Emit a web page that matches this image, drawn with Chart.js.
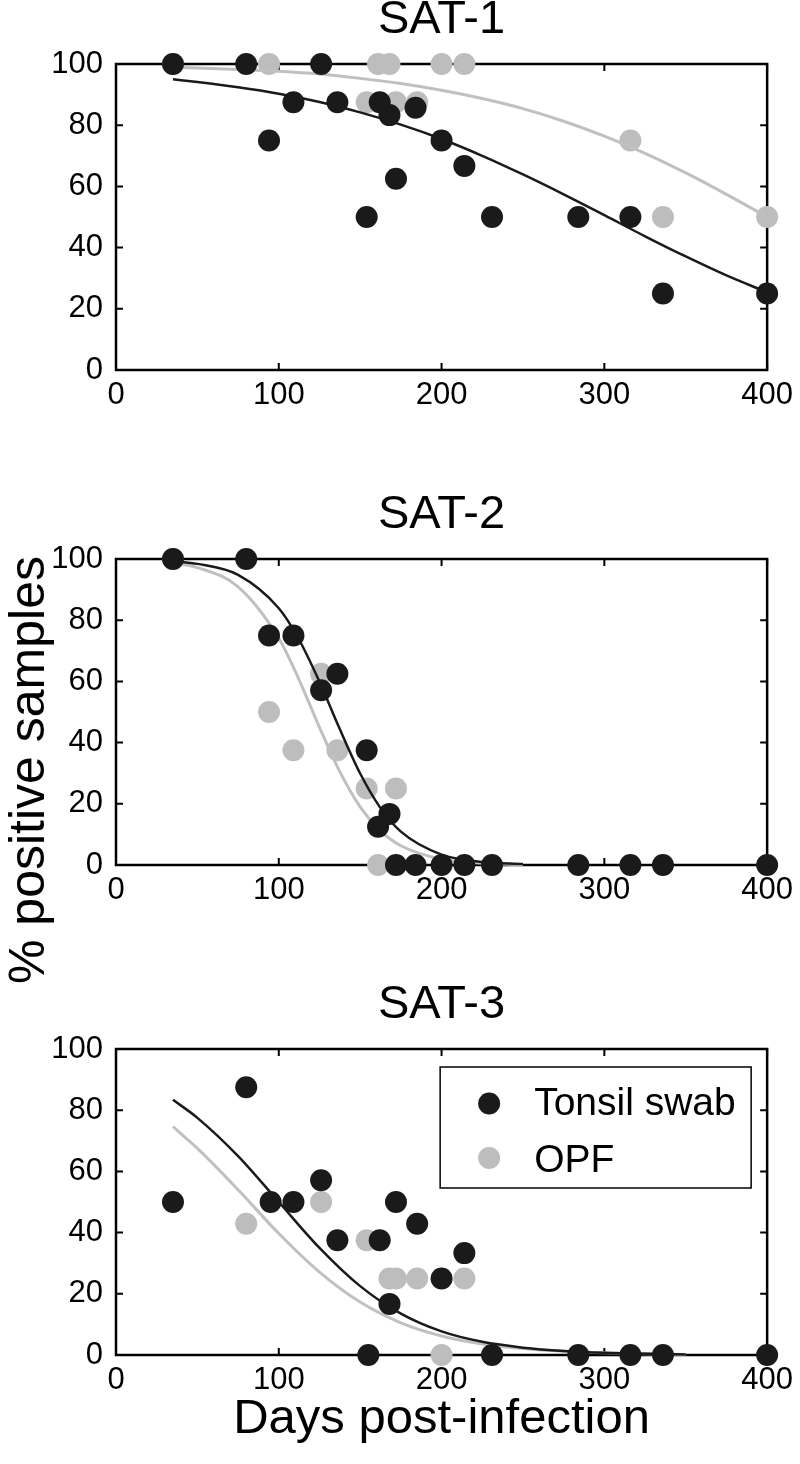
<!DOCTYPE html>
<html>
<head>
<meta charset="utf-8">
<script src="https://cdn.jsdelivr.net/npm/chart.js@4"></script>
<style>
  body { margin: 0; background: #fff; }
  #wrap { position: relative; width: 800px; height: 1464px; }
  canvas { position: absolute; left: 0; }
</style>
</head>
<body>
<div id="wrap">
  <canvas id="c1" width="800" height="495" style="top:0px"></canvas>
  <canvas id="c2" width="800" height="490" style="top:495px"></canvas>
  <canvas id="c3" width="800" height="479" style="top:985px"></canvas>
</div>
<script>
// ticks
const dayTicks = [0, 100, 200, 300, 400];
const pctTicks = [0, 20, 40, 60, 80, 100];

// SAT-1
const sat1TonsilDays = [35, 80, 94, 109, 126, 136, 154, 162, 168, 172, 184, 200, 214, 231, 284, 316, 336, 400];
const sat1TonsilPct  = [100, 100, 75, 87.5, 100, 87.5, 50, 87.5, 83.3, 62.5, 85.7, 75, 66.7, 50, 50, 50, 25, 25];
const sat1OpfDays = [35, 94, 154, 161, 168, 172, 185, 200, 214, 316, 336, 400];
const sat1OpfPct  = [100, 100, 87.5, 100, 100, 87.5, 87.5, 100, 100, 75, 50, 50];
const sat1FitDays = [35, 50, 75, 100, 125, 150, 175, 200, 225, 250, 275, 300, 325, 350, 375, 400];
const sat1TonsilFit = [95.0, 94.1, 92.4, 90.3, 87.6, 84.2, 80.2, 75.5, 70.0, 63.9, 57.4, 50.6, 43.7, 37.1, 30.9, 25.4];
const sat1OpfFit    = [98.9, 98.7, 98.2, 97.6, 96.7, 95.3, 93.6, 91.4, 88.7, 85.4, 81.3, 76.4, 70.8, 64.4, 57.4, 50.0];

// SAT-2
const sat2TonsilDays = [35, 80, 94, 109, 126, 136, 154, 161, 168, 172, 184, 200, 214, 231, 284, 316, 336, 400];
const sat2TonsilPct  = [100, 100, 75, 75, 57.1, 62.5, 37.5, 12.5, 16.7, 0, 0, 0, 0, 0, 0, 0, 0, 0];
const sat2OpfDays = [35, 94, 109, 126, 136, 154, 161, 172];
const sat2OpfPct  = [100, 50, 37.5, 62.5, 37.5, 25, 0, 25];
const sat2FitDays = [35, 50, 75, 100, 112, 125, 137, 150, 162, 175, 200, 225, 250];
const sat2TonsilFit = [99.3, 98.4, 94.8, 83.9, 74.1, 59.9, 45.0, 29.9, 19.0, 10.9, 3.4, 1.0, 0.3];
const sat2OpfFit    = [98.7, 97.2, 90.9, 74.1, 61.1, 45.0, 31.0, 19.0, 11.4, 6.3, 1.9, 0.55, 0.16];

// SAT-3
const sat3TonsilDays = [35, 80, 95, 109, 126, 136, 155, 162, 168, 172, 185, 200, 214, 231, 284, 316, 336, 400];
const sat3TonsilPct  = [50, 87.5, 50, 50, 57.1, 37.5, 0, 37.5, 16.7, 50, 42.9, 25, 33.3, 0, 0, 0, 0, 0];
const sat3OpfDays = [80, 126, 154, 168, 172, 185, 200, 214];
const sat3OpfPct  = [42.9, 50, 37.5, 25, 25, 25, 0, 25];
const sat3FitDays = [35, 50, 75, 100, 125, 150, 175, 200, 225, 250, 275, 300, 350];
const sat3TonsilFit = [83.4, 77.5, 65.0, 50.0, 35.0, 22.5, 13.5, 7.7, 4.3, 2.4, 1.3, 0.7, 0.2];
const sat3OpfFit    = [74.6, 67.5, 54.0, 39.7, 27.1, 17.3, 10.5, 6.2, 3.6, 2.1, 1.2, 0.7, 0.2];

const seriesNames = ['Tonsil swab', 'OPF'];
const dark = '#1a1a1a';
const light = '#bdbdbd';

Chart.defaults.font.family = '"Liberation Sans", Arial, sans-serif';
Chart.defaults.color = '#000';

const toPts = (xs, ys) => xs.map((x, i) => ({ x: x, y: ys[i] }));

// caja y marcas hacia dentro, estilo matlab
const boxPlugin = {
  id: 'box',
  beforeDatasetsDraw(chart) {
    const ctx = chart.ctx;
    const a = chart.chartArea;
    const sx = chart.scales.x, sy = chart.scales.y;
    ctx.save();
    ctx.strokeStyle = '#000';
    ctx.lineWidth = 2;
    dayTicks.forEach(v => {
      const px = sx.getPixelForValue(v);
      ctx.beginPath();
      ctx.moveTo(px, a.bottom); ctx.lineTo(px, a.bottom - 7);
      ctx.moveTo(px, a.top); ctx.lineTo(px, a.top + 7);
      ctx.stroke();
    });
    pctTicks.forEach(v => {
      const py = sy.getPixelForValue(v);
      ctx.beginPath();
      ctx.moveTo(a.left, py); ctx.lineTo(a.left + 7, py);
      ctx.moveTo(a.right, py); ctx.lineTo(a.right - 7, py);
      ctx.stroke();
    });
    ctx.lineWidth = 2.5;
    ctx.strokeRect(a.left, a.top, a.right - a.left, a.bottom - a.top);
    ctx.restore();
  }
};

const yLabelPlugin = {
  id: 'ylabel',
  afterDraw(chart) {
    const ctx = chart.ctx;
    ctx.save();
    ctx.translate(44, 275);
    ctx.rotate(-Math.PI / 2);
    ctx.font = '50px "Liberation Sans", Arial, sans-serif';
    ctx.fillStyle = '#000';
    ctx.textAlign = 'center';
    ctx.textBaseline = 'alphabetic';
    ctx.fillText('% positive samples', 0, 0);
    ctx.restore();
  }
};

const legendPlugin = {
  id: 'boxLegend',
  afterDraw(chart) {
    const ctx = chart.ctx;
    const a = chart.chartArea;
    const w = 311, h = 121;
    const L = a.right - 16 - w, T = a.top + 18;
    ctx.save();
    ctx.fillStyle = '#fff';
    ctx.fillRect(L, T, w, h);
    ctx.strokeStyle = '#000';
    ctx.lineWidth = 1.5;
    ctx.strokeRect(L, T, w, h);
    const items = [
      { label: chart.data.datasets[0].label, color: dark, dy: 36.5, by: 48 },
      { label: chart.data.datasets[3].label, color: light, dy: 91, by: 105 }
    ];
    ctx.font = '39px "Liberation Sans", Arial, sans-serif';
    ctx.textBaseline = 'alphabetic';
    ctx.textAlign = 'left';
    items.forEach(it => {
      ctx.fillStyle = it.color;
      ctx.beginPath();
      ctx.arc(L + 49, T + it.dy, 11, 0, Math.PI * 2);
      ctx.fill();
      ctx.fillStyle = '#000';
      ctx.fillText(it.label, L + 94, T + it.by);
    });
    ctx.restore();
  }
};

function makePanel(id, title, tDays, tPct, oDays, oPct, fitDays, tFit, oFit, bottomH, extra) {
  const xScale = {
    type: 'linear', min: 0, max: 400,
    grid: { display: false, drawTicks: false },
    border: { display: false },
    ticks: { font: { size: 31 }, padding: 7, maxRotation: 0, autoSkip: false },
    afterBuildTicks: s => { s.ticks = dayTicks.map(v => ({ value: v })); },
    afterFit: s => { s.height = bottomH; }
  };
  if (extra.xTitle) {
    xScale.title = { display: true, text: extra.xTitle, font: { size: 49 }, padding: { top: 0, bottom: 15 } };
  }
  return new Chart(document.getElementById(id), {
    type: 'scatter',
    data: {
      datasets: [
        { label: seriesNames[0], data: toPts(tDays, tPct), backgroundColor: dark, pointRadius: 11, pointBorderWidth: 0, clip: false },
        { label: 'fit1', data: toPts(fitDays, tFit), showLine: true, borderColor: dark, borderWidth: 2.5, pointRadius: 0, cubicInterpolationMode: 'monotone', clip: false },
        { label: 'fit2', data: toPts(fitDays, oFit), showLine: true, borderColor: '#c0c0c0', borderWidth: 3, pointRadius: 0, cubicInterpolationMode: 'monotone', clip: false },
        { label: seriesNames[1], data: toPts(oDays, oPct), backgroundColor: light, pointRadius: 11, pointBorderWidth: 0, clip: false }
      ]
    },
    options: {
      responsive: false,
      animation: false,
      devicePixelRatio: 1,
      layout: { padding: { left: 0, right: 30, top: 0, bottom: 0 } },
      scales: {
        x: xScale,
        y: {
          type: 'linear', min: 0, max: 100,
          grid: { display: false, drawTicks: false },
          border: { display: false },
          ticks: { font: { size: 31 }, padding: 13 },
          afterBuildTicks: s => { s.ticks = pctTicks.map(v => ({ value: v })); },
          afterFit: s => { s.width = 116; }
        }
      },
      plugins: {
        legend: { display: false },
        tooltip: { enabled: false },
        title: {
          display: true, text: title, fullSize: false, color: '#000',
          font: { size: 47, weight: 'normal', lineHeight: 40 / 47 },
          padding: { top: 0, bottom: 24 }
        }
      }
    },
    plugins: [boxPlugin].concat(extra.plugins || [])
  });
}

makePanel('c1', 'SAT-1', sat1TonsilDays, sat1TonsilPct, sat1OpfDays, sat1OpfPct, sat1FitDays, sat1TonsilFit, sat1OpfFit, 125, {});
makePanel('c2', 'SAT-2', sat2TonsilDays, sat2TonsilPct, sat2OpfDays, sat2OpfPct, sat2FitDays, sat2TonsilFit, sat2OpfFit, 120, { plugins: [yLabelPlugin] });
makePanel('c3', 'SAT-3', sat3TonsilDays, sat3TonsilPct, sat3OpfDays, sat3OpfPct, sat3FitDays, sat3TonsilFit, sat3OpfFit, 109, { xTitle: 'Days post-infection', plugins: [legendPlugin] });
</script>
</body>
</html>
